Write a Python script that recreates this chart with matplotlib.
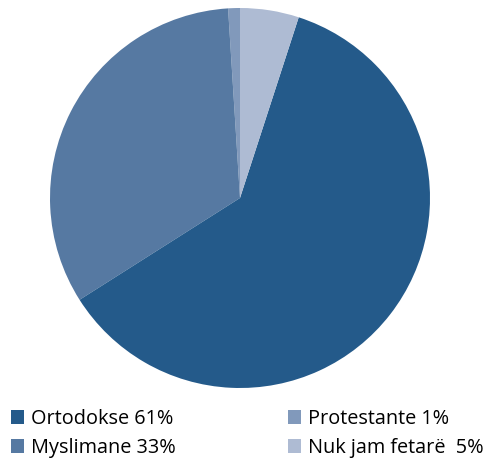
import matplotlib
matplotlib.use("Agg")
import matplotlib.pyplot as plt
from matplotlib.patches import Patch

labels = ["Ortodokse 61%", "Myslimane 33%", "Protestante 1%", "Nuk jam fetarë  5%"]
values = [61, 33, 1, 5]
colors = ["#245a8a", "#5679a2", "#8199bb", "#aebbd3"]

# pie order counterclockwise from 12 o'clock
pie_order = [2, 1, 0, 3]

fig = plt.figure(figsize=(4.88, 4.59), dpi=100)
ax = fig.add_axes([50 / 488, 71 / 459, 380 / 488, 380 / 459])
ax.pie([values[i] for i in pie_order], colors=[colors[i] for i in pie_order],
       startangle=90, counterclock=True, radius=1.0,
       wedgeprops=dict(linewidth=0))
ax.set_xlim(-1, 1)
ax.set_ylim(-1, 1)
ax.set_aspect("equal")
ax.axis("off")

handles = [Patch(facecolor=c, edgecolor="none") for c in colors]
fig.legend(handles, labels, ncol=2, loc="lower left",
           bbox_to_anchor=(11 / 488, 1 / 459), frameon=False,
           prop=dict(family="Open Sans", size=14.3),
           handlelength=0.66, handleheight=0.66, handletextpad=0.35,
           columnspacing=5.65, labelspacing=0.45, borderpad=0.0,
           borderaxespad=0.0)

fig.savefig("out.png", dpi=100)
